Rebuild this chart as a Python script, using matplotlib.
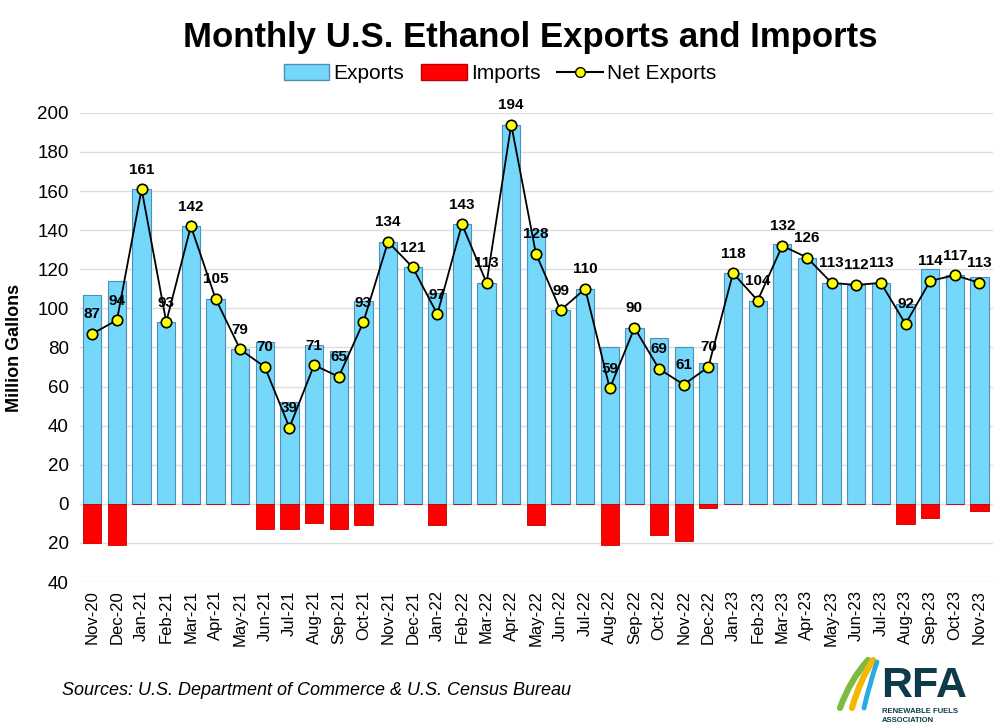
import matplotlib
matplotlib.use("Agg")
import matplotlib.pyplot as plt
from matplotlib.ticker import FuncFormatter, MultipleLocator
from matplotlib.lines import Line2D
from matplotlib.patches import Patch, PathPatch
from matplotlib.path import Path

months = ["Nov-20", "Dec-20", "Jan-21", "Feb-21", "Mar-21", "Apr-21", "May-21", "Jun-21",
          "Jul-21", "Aug-21", "Sep-21", "Oct-21", "Nov-21", "Dec-21", "Jan-22", "Feb-22",
          "Mar-22", "Apr-22", "May-22", "Jun-22", "Jul-22", "Aug-22", "Sep-22", "Oct-22",
          "Nov-22", "Dec-22", "Jan-23", "Feb-23", "Mar-23", "Apr-23", "May-23", "Jun-23",
          "Jul-23", "Aug-23", "Sep-23", "Oct-23", "Nov-23"]
exports = [107, 114, 161, 93, 142, 105, 79, 83, 52, 81, 78, 104, 134, 121, 108, 143,
           113, 194, 140, 99, 110, 80, 90, 85, 80, 72, 118, 104, 133, 126, 113, 112,
           113, 102, 120, 117, 116]
imports = [20, 21, 0, 0, 0, 0, 0, 13, 13, 10, 13, 11, 0, 0, 11, 0,
           0, 0, 11, 0, 0, 21, 0, 16, 19, 2, 0, 0, 0, 0, 0, 0,
           0, 10.5, 7, 0, 3.5]
net_exports = [87, 94, 161, 93, 142, 105, 79, 70, 39, 71, 65, 93, 134, 121, 97, 143,
               113, 194, 128, 99, 110, 59, 90, 69, 61, 70, 118, 104, 132, 126, 113, 112,
               113, 92, 114, 117, 113]

plt.rcParams['font.family'] = ['Liberation Sans', 'DejaVu Sans']

fig = plt.figure(figsize=(10, 7.28), dpi=100)
ax = fig.add_axes([0.08, 0.2005, 0.913, 0.6445])

x = list(range(len(months)))
ax.bar(x, exports, width=0.74, color="#75D7FA", edgecolor="#4F8FB5", linewidth=0.8, zorder=2)
ax.bar(x, [-v for v in imports], width=0.74, color="#FF0000", edgecolor="#C00000", linewidth=0.6, zorder=2)
ax.plot(x, net_exports, color="black", linewidth=1.3, marker="o", markersize=7.5,
        markerfacecolor="#FFFF00", markeredgecolor="black", markeredgewidth=1.2, zorder=4)

for xi, v in zip(x, net_exports):
    ax.annotate(f"{v:g}", (xi, v), xytext=(0, 9), textcoords="offset points",
                ha="center", va="bottom", fontsize=11, fontweight="bold", zorder=5)

ax.set_xlim(-0.5, len(months) - 0.45)
ax.set_ylim(-40, 200)
ax.yaxis.set_major_locator(MultipleLocator(20))
ax.yaxis.set_major_formatter(FuncFormatter(lambda v, p: f"{abs(v):.0f}"))
ax.grid(axis="y", color="#DDDDDD", linewidth=1, zorder=0)
ax.set_xticks(x)
ax.set_xticklabels(months, rotation=90, fontsize=12)
ax.tick_params(axis="y", labelsize=13.5, length=0, pad=8)
ax.tick_params(axis="x", length=0, pad=6)
for s in ax.spines.values():
    s.set_visible(False)

ax.set_ylabel("Million Gallons", fontsize=13, fontweight="bold", labelpad=10)

fig.text(0.53, 0.949, "Monthly U.S. Ethanol Exports and Imports", ha="center", va="center",
         fontsize=25, fontweight="bold")

handles = [Patch(facecolor="#75D7FA", edgecolor="#4F8FB5", label="Exports"),
           Patch(facecolor="#FF0000", edgecolor="#C00000", label="Imports"),
           Line2D([0], [0], color="black", marker="o", markerfacecolor="#FFFF00",
                  markeredgecolor="black", markersize=7, label="Net Exports")]
fig.legend(handles=handles, loc="center", bbox_to_anchor=(0.5, 0.899), ncol=3, frameon=False,
           fontsize=15, handlelength=2.2, handleheight=0.8, columnspacing=0.8, handletextpad=0.2)

fig.text(0.062, 0.052, "Sources: U.S. Department of Commerce & U.S. Census Bureau",
         ha="left", va="center", fontsize=13, style="italic")

# RFA logo (approximation): swooshes + text
W, H = 1000.0, 728.0
def swoosh(pts, color, lw):
    verts = [(px / W, 1 - py / H) for px, py in pts]
    p = Path(verts, [Path.MOVETO, Path.CURVE3, Path.CURVE3])
    fig.add_artist(PathPatch(p, facecolor="none", edgecolor=color, lw=lw,
                             transform=fig.transFigure, capstyle="round"))
swoosh([(840, 708), (850, 680), (868, 660)], "#7DBB42", 4.5)
swoosh([(852, 708), (860, 680), (873, 660)], "#F5B800", 4.5)
swoosh([(864, 708), (870, 682), (877, 662)], "#29ABE2", 3.5)

fig.text(0.924, 1 - 697 / H, "RFA", ha="center", va="baseline", fontsize=31, fontweight="bold",
         color="#0E3B4A")
fig.text(0.882, 1 - 708 / H, "RENEWABLE FUELS\nASSOCIATION", ha="left", va="top", fontsize=5.5,
         fontweight="bold", color="#0E3B4A", linespacing=1.5)

fig.savefig("out.png", dpi=100)
